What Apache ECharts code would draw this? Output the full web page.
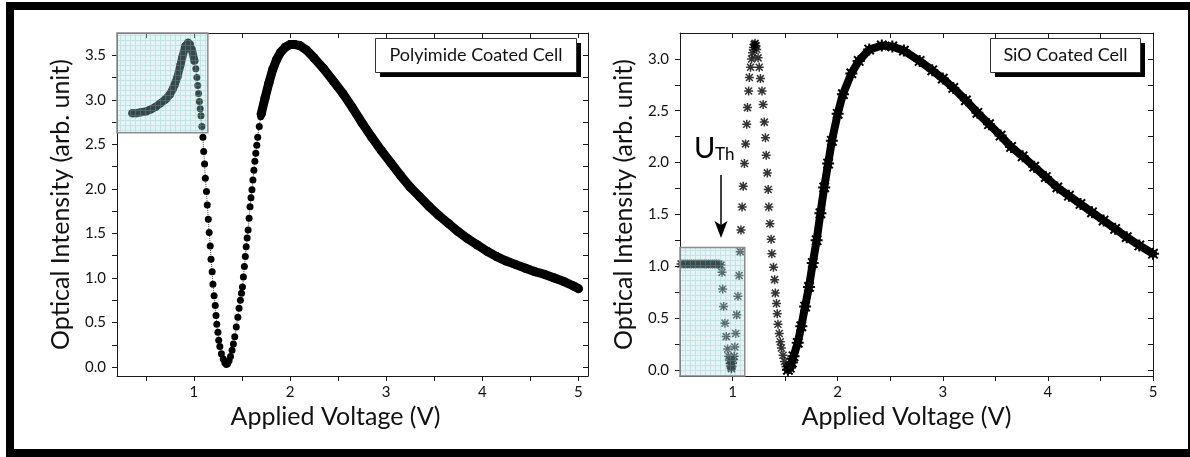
<!DOCTYPE html>
<html><head><meta charset="utf-8">
<script src="https://cdn.jsdelivr.net/npm/echarts@6/dist/echarts.min.js"></script>
<style>html,body{margin:0;padding:0;background:#fff}#c{width:1190px;height:457px}</style>
</head><body><div id="c"></div>
<script>
// ---------- tick / label values ----------
const leftXTicks = [0.5,1,1.5,2,2.5,3,3.5,4,4.5,5];
const leftXLabels = [1,2,3,4,5];
const leftYTicks = [0,0.25,0.5,0.75,1,1.25,1.5,1.75,2,2.25,2.5,2.75,3,3.25,3.5];
const leftYLabels = [0,0.5,1,1.5,2,2.5,3,3.5];
const rightXTicks = [1,1.5,2,2.5,3,3.5,4,4.5,5];
const rightXLabels = [1,2,3,4,5];
const rightYTicks = [0,0.25,0.5,0.75,1,1.25,1.5,1.75,2,2.25,2.5,2.75,3];
const rightYLabels = [0,0.5,1,1.5,2,2.5,3];

// ---------- Polyimide coated cell ----------
const leftInsetV = [0.36,0.40,0.45,0.50,0.55,0.60,0.65,0.70,0.72,0.75,0.78,0.80,0.83,0.86,0.88,0.91,0.94,0.96,0.98,1.005];
const leftInsetI = [2.85,2.85,2.86,2.87,2.89,2.92,2.96,3.00,3.02,3.06,3.12,3.17,3.26,3.39,3.48,3.60,3.64,3.62,3.56,3.44];
const leftSparseV = [1.020,1.031,1.040,1.048,1.057,1.066,1.074,1.083,1.094,1.102,1.111,1.119,1.131,1.139,1.150,1.159,1.170,1.178,1.190,1.198,1.210,1.222,1.230,1.238,1.250,1.258,1.270,1.286,1.306,1.322,1.338,1.352,1.366,1.381,1.397,1.411,1.425,1.441,1.457,1.470,1.484,1.495,1.505,1.515,1.525,1.535,1.544,1.554,1.564,1.574,1.584,1.594,1.604,1.614,1.624,1.634,1.644,1.654,1.664,1.680,1.695];
const leftSparseI = [3.35,3.25,3.16,3.07,2.98,2.90,2.82,2.70,2.58,2.42,2.28,2.12,1.97,1.82,1.66,1.51,1.36,1.21,1.07,0.93,0.80,0.69,0.58,0.48,0.39,0.30,0.23,0.15,0.09,0.05,0.03,0.04,0.07,0.12,0.19,0.26,0.34,0.45,0.56,0.66,0.75,0.83,0.90,1.01,1.13,1.24,1.35,1.45,1.54,1.67,1.80,1.90,1.99,2.10,2.21,2.31,2.40,2.49,2.58,2.70,2.81];
const leftMainV = [1.70,1.74,1.78,1.82,1.86,1.90,1.95,2.00,2.05,2.10,2.17,2.25,2.35,2.45,2.55,2.65,2.75,2.85,2.95,3.05,3.15,3.25,3.35,3.45,3.55,3.65,3.75,3.85,3.95,4.05,4.15,4.25,4.35,4.45,4.55,4.65,4.75,4.85,4.95,5.00];
const leftMainI = [2.84,3.02,3.19,3.34,3.45,3.53,3.59,3.62,3.62,3.61,3.56,3.47,3.35,3.21,3.07,2.91,2.74,2.58,2.43,2.29,2.15,2.02,1.91,1.80,1.70,1.61,1.52,1.44,1.37,1.30,1.24,1.19,1.15,1.11,1.07,1.04,1.00,0.96,0.91,0.88];
const leftInsetBox = [0.2, 1.145, 2.63, 3.75];

// ---------- SiO coated cell ----------
const rightSparseV = [0.51,0.53,0.55,0.57,0.59,0.61,0.63,0.65,0.67,0.69,0.71,0.73,0.75,0.77,0.79,0.81,0.83,0.85,0.87,0.89,
  0.900,0.906,0.915,0.928,0.940,0.953,0.962,0.970,0.978,0.982,0.986,0.990,0.994,1.000,1.008,
  1.016,1.022,1.030,1.040,1.051,1.062,1.073,1.080,1.091,1.102,1.113,1.124,1.135,1.142,1.153,1.160,1.171,1.181,1.190,1.198,1.206,1.214,1.222,1.230,
  1.243,1.254,1.265,1.280,1.291,1.302,1.313,1.320,1.331,1.339,1.345,1.356,1.367,1.374,1.389,1.400,1.407,1.418,1.425,1.432,1.444,1.454,1.465,1.480,1.494,1.509];
const rightSparseI = [1.02,1.02,1.02,1.02,1.02,1.02,1.02,1.02,1.02,1.02,1.02,1.02,1.02,1.02,1.02,1.02,1.02,1.02,1.02,1.01,
  0.94,0.78,0.61,0.45,0.32,0.20,0.13,0.09,0.06,0.04,0.02,0.01,0.03,0.06,0.10,
  0.13,0.22,0.35,0.53,0.71,0.91,1.14,1.35,1.57,1.77,1.99,2.18,2.37,2.53,2.69,2.82,2.92,3.00,3.06,3.11,3.14,3.15,3.13,3.09,
  3.01,2.92,2.81,2.69,2.56,2.39,2.24,2.07,1.90,1.74,1.57,1.41,1.26,1.12,0.99,0.87,0.74,0.64,0.54,0.44,0.35,0.27,0.21,0.14,0.08,0.03];
const rightMainV = [1.527,1.545,1.564,1.58,1.62,1.654,1.69,1.727,1.763,1.80,1.836,1.872,1.909,1.945,2.00,2.05,2.13,2.20,2.30,2.42,2.52,2.63,2.78,2.90,3.00,3.10,3.22,3.33,3.44,3.55,3.65,3.76,3.87,3.98,4.09,4.20,4.31,4.42,4.53,4.64,4.75,4.87,5.00];
const rightMainI = [0.00,0.02,0.07,0.13,0.26,0.42,0.61,0.80,1.03,1.25,1.51,1.76,1.99,2.21,2.47,2.66,2.86,2.98,3.09,3.13,3.12,3.08,2.98,2.89,2.81,2.72,2.60,2.48,2.37,2.26,2.15,2.06,1.96,1.86,1.76,1.68,1.60,1.52,1.44,1.36,1.28,1.20,1.12];
const rightInsetBox = [0.5, 1.116, -0.06, 1.18];

// ---------- text ----------
const xTitle = 'Applied Voltage (V)';
const yTitle = 'Optical Intensity (arb. unit)';
const leftTag = 'Polyimide Coated Cell';
const rightTag = 'SiO Coated Cell';

const zip = (a, b) => a.map((v, i) => [v, b[i]]);
const FONT = 'Lato';
const AX = '#1a1a1a';
const asterisk = 'path://M1 8.5L19 8.5L19 11.5L1 11.5Z M8.5 1L11.5 1L11.5 19L8.5 19Z M4.06 1.94L18.06 15.94L15.94 18.06L1.94 4.06Z M15.94 1.94L18.06 4.06L4.06 18.06L1.94 15.94Z';

function gridPattern() {
  const c = document.createElement('canvas');
  c.width = 5; c.height = 5;
  const g = c.getContext('2d');
  g.fillStyle = 'rgba(175,225,228,0.32)';
  g.fillRect(0, 0, 5, 5);
  g.fillStyle = 'rgba(120,185,195,0.30)';
  g.fillRect(0, 0, 5, 1);
  g.fillRect(0, 1, 1, 4);
  return c;
}
const pat = { image: gridPattern(), repeat: 'repeat' };

function xAxis(grid, pos, min, max, ticks, labels, withName, shift) {
  return {
    type: 'value', gridIndex: grid, position: pos, min: min, max: max,
    splitLine: { show: false },
    axisLine: { show: true, onZero: false, lineStyle: { color: AX, width: 1 } },
    axisTick: { show: true, inside: pos === 'top', length: 5, customValues: ticks, lineStyle: { color: AX } },
    axisLabel: { show: pos === 'bottom', customValues: labels, margin: 9, fontFamily: FONT, fontSize: 15, color: '#111',
      formatter: v => String(v) },
    name: withName ? xTitle : '', nameLocation: 'middle', nameGap: 26,
    nameTextStyle: { fontFamily: FONT, fontSize: 25, color: '#111', padding: [0, shift || 0, 0, 0] }
  };
}
function yAxis(grid, pos, min, max, ticks, labels, withName) {
  return {
    type: 'value', gridIndex: grid, position: pos, min: min, max: max,
    splitLine: { show: false },
    axisLine: { show: true, onZero: false, lineStyle: { color: AX, width: 1 } },
    axisTick: { show: true, inside: pos === 'right', length: 5, customValues: ticks, lineStyle: { color: AX } },
    axisLabel: { show: pos === 'left', customValues: labels, margin: 11, fontFamily: FONT, fontSize: 15, color: '#111',
      formatter: v => v.toFixed(1) },
    name: withName ? yTitle : '', nameLocation: 'middle', nameGap: 44,
    nameTextStyle: { fontFamily: FONT, fontSize: 25, color: '#111' }
  };
}

function insetSeries(xi, yi, box) {
  return {
    type: 'custom', xAxisIndex: xi, yAxisIndex: yi, z: 5, silent: true,
    data: [box],
    encode: { x: [0, 1], y: [2, 3] },
    renderItem: (params, api) => {
      const p0 = api.coord([api.value(0), api.value(3)]);
      const p1 = api.coord([api.value(1), api.value(2)]);
      return { type: 'rect',
        shape: { x: p0[0], y: p0[1], width: p1[0] - p0[0], height: p1[1] - p0[1] },
        style: { fill: pat, stroke: '#8c8c8c', lineWidth: 1.5 } };
    }
  };
}

const chart = echarts.init(document.getElementById('c'), null, { renderer: 'canvas' });
chart.setOption({
  animation: false,
  backgroundColor: '#fff',
  grid: [
    { left: 117, right: 602, top: 33, bottom: 81 },
    { left: 680, right: 37, top: 33, bottom: 81 }
  ],
  xAxis: [
    xAxis(0, 'bottom', 0.2, 5.1, leftXTicks, leftXLabels, true, 34),
    xAxis(0, 'top', 0.2, 5.1, leftXTicks, leftXLabels, false),
    xAxis(1, 'bottom', 0.5, 5.0, rightXTicks, rightXLabels, true, 20),
    xAxis(1, 'top', 0.5, 5.0, rightXTicks, rightXLabels, false)
  ],
  yAxis: [
    yAxis(0, 'left', -0.1, 3.75, leftYTicks, leftYLabels, true),
    yAxis(0, 'right', -0.1, 3.75, leftYTicks, leftYLabels, false),
    yAxis(1, 'left', -0.06, 3.25, rightYTicks, rightYLabels, true),
    yAxis(1, 'right', -0.06, 3.25, rightYTicks, rightYLabels, false)
  ],
  series: [
    { type: 'line', xAxisIndex: 0, yAxisIndex: 0, z: 2, data: zip(leftInsetV, leftInsetI),
      symbol: 'circle', symbolSize: 8, showAllSymbol: true, itemStyle: { color: '#000' },
      lineStyle: { color: '#000', width: 8, cap: 'round', join: 'round' } },
    { type: 'line', xAxisIndex: 0, yAxisIndex: 0, z: 2, data: zip(leftSparseV, leftSparseI),
      symbol: 'circle', symbolSize: 7, showAllSymbol: true, itemStyle: { color: '#000' },
      lineStyle: { color: '#444', width: 1, type: 'dotted' } },
    { type: 'line', xAxisIndex: 0, yAxisIndex: 0, z: 2, data: zip(leftMainV, leftMainI),
      symbol: 'circle', symbolSize: 9, showAllSymbol: true, itemStyle: { color: '#000' },
      lineStyle: { color: '#000', width: 9, cap: 'round', join: 'round' } },
    insetSeries(0, 0, leftInsetBox),
    { type: 'scatter', xAxisIndex: 2, yAxisIndex: 2, z: 2, data: zip(rightSparseV, rightSparseI),
      symbol: asterisk, symbolSize: 9, itemStyle: { color: '#000' } },
    { type: 'line', xAxisIndex: 2, yAxisIndex: 2, z: 2, data: zip(rightMainV, rightMainI),
      symbol: asterisk, symbolSize: 12, showAllSymbol: true, itemStyle: { color: '#000' },
      lineStyle: { color: '#000', width: 8, cap: 'round', join: 'round' } },
    insetSeries(2, 2, rightInsetBox)
  ],
  graphic: [
    { type: 'rect', z: 100, shape: { x: 10, y: 6, width: 1182, height: 447 },
      style: { fill: 'none', stroke: '#000', lineWidth: 8 } },
    // left tag
    { type: 'rect', z: 50, shape: { x: 380, y: 43, width: 201, height: 34 }, style: { fill: '#000' } },
    { type: 'rect', z: 51, shape: { x: 375.5, y: 38.5, width: 201, height: 34 }, style: { fill: '#fff', stroke: '#333', lineWidth: 1 } },
    { type: 'text', z: 52, x: 476, y: 55.5, style: { text: leftTag, font: '18px Lato', fill: '#111', align: 'center', verticalAlign: 'middle' } },
    // right tag
    { type: 'rect', z: 50, shape: { x: 995, y: 43, width: 150, height: 34 }, style: { fill: '#000' } },
    { type: 'rect', z: 51, shape: { x: 990.5, y: 38.5, width: 150, height: 34 }, style: { fill: '#fff', stroke: '#333', lineWidth: 1 } },
    { type: 'text', z: 52, x: 1065.5, y: 55.5, style: { text: rightTag, font: '18px Lato', fill: '#111', align: 'center', verticalAlign: 'middle' } },
    // U_Th annotation
    { type: 'text', z: 52, x: 694, y: 134, style: { text: 'U', font: '29px Lato', fill: '#000' } },
    { type: 'text', z: 52, x: 715, y: 146, style: { text: 'Th', font: '17px Lato', fill: '#000' } },
    { type: 'line', z: 52, shape: { x1: 721, y1: 175, x2: 721, y2: 226 }, style: { stroke: '#000', lineWidth: 1.5 } },
    { type: 'polygon', z: 52, shape: { points: [[721, 238], [714.5, 221], [721, 225], [727.5, 221]] }, style: { fill: '#000' } }
  ]
});
</script>
</body></html>
